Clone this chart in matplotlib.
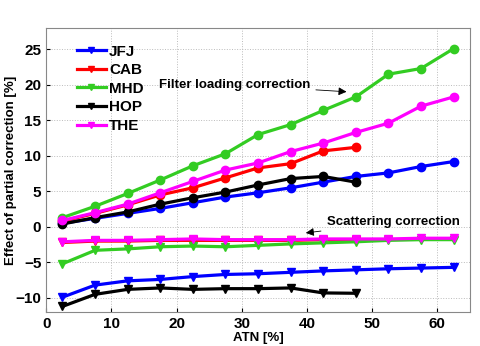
import matplotlib.pyplot as plt
import numpy as np

plt.rcParams['font.family'] = ['Liberation Sans', 'DejaVu Sans']
plt.rcParams['font.weight'] = 'bold'

# ATN bins
atn = [2.5, 7.5, 12.5, 17.5, 22.5, 27.5, 32.5, 37.5, 42.5, 47.5, 52.5, 57.5, 62.5]

# filter loading correction
jfj_load = [0.5, 1.2, 1.9, 2.6, 3.4, 4.2, 4.8, 5.5, 6.3, 7.1, 7.6, 8.5, 9.2]
cab_load = [0.8, 1.9, 3.1, 4.5, 5.5, 6.9, 8.3, 8.9, 10.7, 11.2]
mhd_load = [1.3, 2.9, 4.7, 6.6, 8.6, 10.3, 13.0, 14.4, 16.4, 18.3, 21.5, 22.3, 25.1]
hop_load = [0.4, 1.3, 2.1, 3.2, 4.1, 4.9, 5.9, 6.8, 7.1, 6.3]
the_load = [0.9, 2.0, 3.2, 4.8, 6.4, 8.0, 9.0, 10.6, 11.8, 13.3, 14.6, 17.0, 18.3]

# scattering correction
jfj_scat = [-9.9, -8.2, -7.6, -7.4, -7.0, -6.7, -6.6, -6.4, -6.2, -6.05, -5.9, -5.8, -5.7]
cab_scat = [-2.2, -2.0, -2.0, -1.9, -1.9, -1.9, -1.9, -1.9, -1.8, -1.8]
mhd_scat = [-5.2, -3.3, -3.1, -2.8, -2.7, -2.8, -2.6, -2.4, -2.25, -2.1, -1.9, -1.8, -1.8]
hop_scat = [-11.2, -9.5, -8.8, -8.6, -8.8, -8.7, -8.7, -8.6, -9.3, -9.35]
the_scat = [-2.1, -1.9, -1.9, -1.8, -1.7, -1.8, -1.8, -1.8, -1.7, -1.7, -1.7, -1.6, -1.6]

names = ['JFJ', 'CAB', 'MHD', 'HOP', 'THE']
colors = ['#0000ff', '#ff0000', '#33cc22', '#000000', '#ff00ff']
load = [jfj_load, cab_load, mhd_load, hop_load, the_load]
scat = [jfj_scat, cab_scat, mhd_scat, hop_scat, the_scat]

fig = plt.figure(figsize=(4.81, 3.46), dpi=100)
ax = fig.add_axes([0.096, 0.098, 0.881, 0.821])

for name, c, s in zip(names, colors, scat):
    ax.plot(atn[:len(s)], s, color=c, lw=2.3, marker='v', ms=5.5, label=name)
for c, l in zip(colors, load):
    ax.plot(atn[:len(l)], l, color=c, lw=2.3, marker='o', ms=6)

ax.set_xlim(0, 65)
ax.set_ylim(-12, 28)
ax.set_xticks([0, 10, 20, 30, 40, 50, 60])
ax.set_yticks([-10, -5, 0, 5, 10, 15, 20, 25])
ax.grid(True, ls=':', color='#bbbbbb', lw=0.7)
ax.tick_params(labelsize=11, direction='in', length=3)
for s in ax.spines.values():
    s.set_color('#888888')
ax.set_xlabel('ATN [%]', fontsize=9.5, fontweight='bold', labelpad=1)
ax.set_ylabel('Effect of partial correction [%]', fontsize=9.5, fontweight='bold',
              va='center')
ax.yaxis.set_label_coords(-0.083, 0.5)

arrow = dict(arrowstyle='-|>', color='black', lw=0.6, mutation_scale=12)
ax.annotate('Filter loading correction', xy=(46.5, 19.0), xytext=(17.3, 20.0),
            fontsize=9.5, fontweight='bold', va='center', arrowprops=arrow)
ax.annotate('Scattering correction', xy=(39.4, -0.9), xytext=(43.0, 0.65),
            fontsize=9.5, fontweight='bold', va='center', arrowprops=arrow)

leg = ax.legend(loc='upper left', bbox_to_anchor=(0.04, 0.99), fontsize=11,
                frameon=False, handlelength=1.9, labelspacing=0.3,
                handletextpad=0.2, markerscale=0.8)

fig.savefig('out.png', dpi=100)
